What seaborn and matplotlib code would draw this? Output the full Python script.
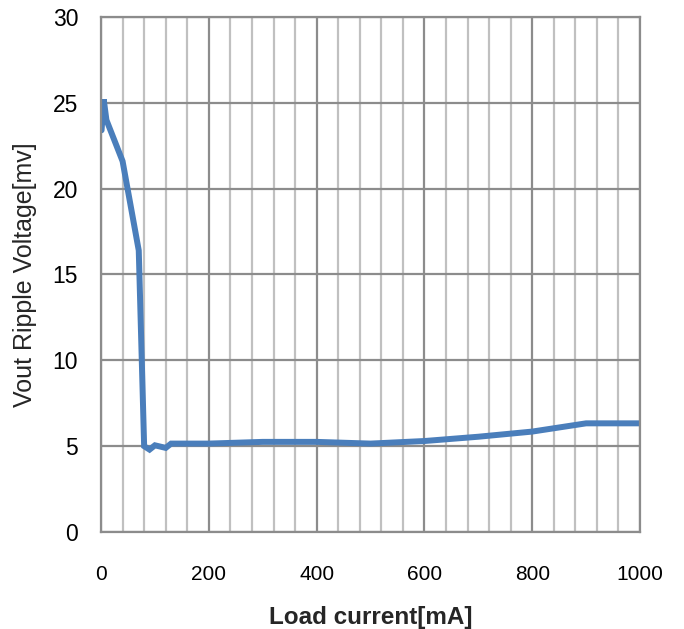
import matplotlib
matplotlib.use("Agg")
import matplotlib.pyplot as plt
from matplotlib import font_manager
import seaborn as sns
import pandas as pd
from matplotlib.ticker import MultipleLocator

load_current = [1, 5, 10, 20, 40, 70, 80, 90, 100, 120, 130, 200, 300, 400, 500, 600, 700, 800, 900, 1000]
ripple_mv = [23.4, 25.2, 24.0, 23.2, 21.6, 16.4, 5.0, 4.8, 5.05, 4.9, 5.15, 5.15, 5.25, 5.25, 5.15, 5.3, 5.55, 5.85, 6.33, 6.33]
x_ticks = [0, 200, 400, 600, 800, 1000]
y_ticks = [0, 5, 10, 15, 20, 25, 30]

sns.set_theme(style="white")
plt.rcParams['font.family'] = ['Liberation Sans', 'DejaVu Sans']

names = {f.name for f in font_manager.fontManager.ttflist}
narrow = "Liberation Sans Narrow" if "Liberation Sans Narrow" in names else "Liberation Sans"
xt_size = 17 if narrow != "Liberation Sans" else 15

df = pd.DataFrame({"x": load_current, "y": ripple_mv})
fig = plt.figure(figsize=(6.84, 6.29), dpi=100)
ax = fig.add_axes([0.1477, 0.1542, 0.7880, 0.8188])

ax.set_xlim(0, 1000)
ax.set_ylim(0, 30)
ax.xaxis.set_minor_locator(MultipleLocator(40))
ax.set_xticks(x_ticks)
ax.set_yticks(y_ticks)
ax.grid(True, which="minor", axis="x", color="#c0c0c0", linewidth=1.6)
ax.grid(True, which="major", axis="both", color="#8c8c8c", linewidth=1.6)
ax.set_axisbelow(True)

sns.lineplot(data=df, x="x", y="y", ax=ax, sort=False, estimator=None,
             color="#4a7ebb", linewidth=4.3, solid_joinstyle="miter")

for s in ax.spines.values():
    s.set_color("#8c8c8c")
    s.set_linewidth(1.6)

ax.tick_params(axis="both", which="both", length=0, colors="black")
ax.tick_params(axis="y", pad=16.5, labelsize=16.5)
ax.tick_params(axis="x", pad=24)
ax.set_xticklabels([str(v) for v in x_ticks], fontsize=xt_size, family=[narrow, 'DejaVu Sans'])
ax.set_yticklabels([str(v) for v in y_ticks])
ax.set_xlabel("Load current[mA]", fontsize=17.5, fontweight="bold")
ax.set_ylabel("Vout Ripple Voltage[mv]", fontsize=18)
ax.xaxis.set_label_coords(0.5, -0.143)
ax.yaxis.set_label_coords(-0.119, 0.5)

fig.savefig("out.png", dpi=100)
